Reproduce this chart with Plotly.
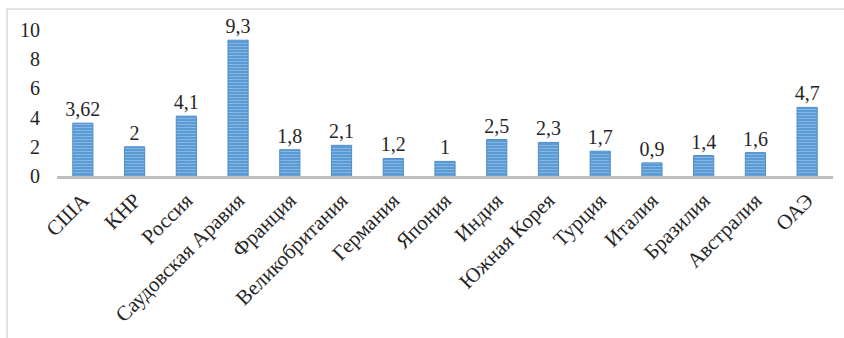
import plotly.graph_objects as go

countries = ["США", "КНР", "Россия", "Саудовская Аравия", "Франция",
             "Великобритания", "Германия", "Япония", "Индия", "Южная Корея",
             "Турция", "Италия", "Бразилия", "Австралия", "ОАЭ"]
values = [3.62, 2, 4.1, 9.3, 1.8, 2.1, 1.2, 1, 2.5, 2.3, 1.7, 0.9, 1.4, 1.6, 4.7]
y_ticks = [0, 2, 4, 6, 8, 10]

serif = "Liberation Serif"

fig = go.Figure(go.Bar(
    x=countries,
    y=values,
    texttemplate="%{y}",
    textposition="outside",
    cliponaxis=False,
    textfont=dict(family=serif, size=20, color="#262626"),
    marker=dict(
        color="#5B9BD5",
        line=dict(color="#4F8DCB", width=1),
        pattern=dict(shape="-", fgcolor="#B4D2EE", bgcolor="#5B9BD5",
                     size=3, solidity=0.35),
    ),
))

fig.update_layout(
    width=844, height=338,
    margin=dict(l=57, r=11, t=30, b=162),
    paper_bgcolor="white", plot_bgcolor="white",
    separators=", ",
    bargap=0.61,
    showlegend=False,
    uniformtext=dict(mode="show", minsize=20),
    font=dict(family=serif, color="#262626"),
    shapes=[dict(type="rect", xref="paper", yref="paper",
                 x0=-0.0644, x1=1.02, y0=-1.2, y1=1.144,
                 line=dict(color="#D9D9D9", width=1.5), fillcolor="rgba(0,0,0,0)",
                 layer="below")],
)
fig.update_xaxes(
    showline=True, linecolor="#BFBFBF", linewidth=2.5,
    showgrid=False, tickangle=-45, automargin=False,
    ticks="outside", ticklen=1, tickcolor="rgba(0,0,0,0)",
    tickfont=dict(family=serif, size=21, color="#262626"),
)
fig.update_yaxes(
    range=[0, 10], tickvals=y_ticks, showgrid=False, showline=False,
    zeroline=False, automargin=False,
    ticks="outside", ticklen=12, tickcolor="rgba(0,0,0,0)",
    tickfont=dict(family=serif, size=20, color="#262626"),
)

fig.write_html("out.html")
